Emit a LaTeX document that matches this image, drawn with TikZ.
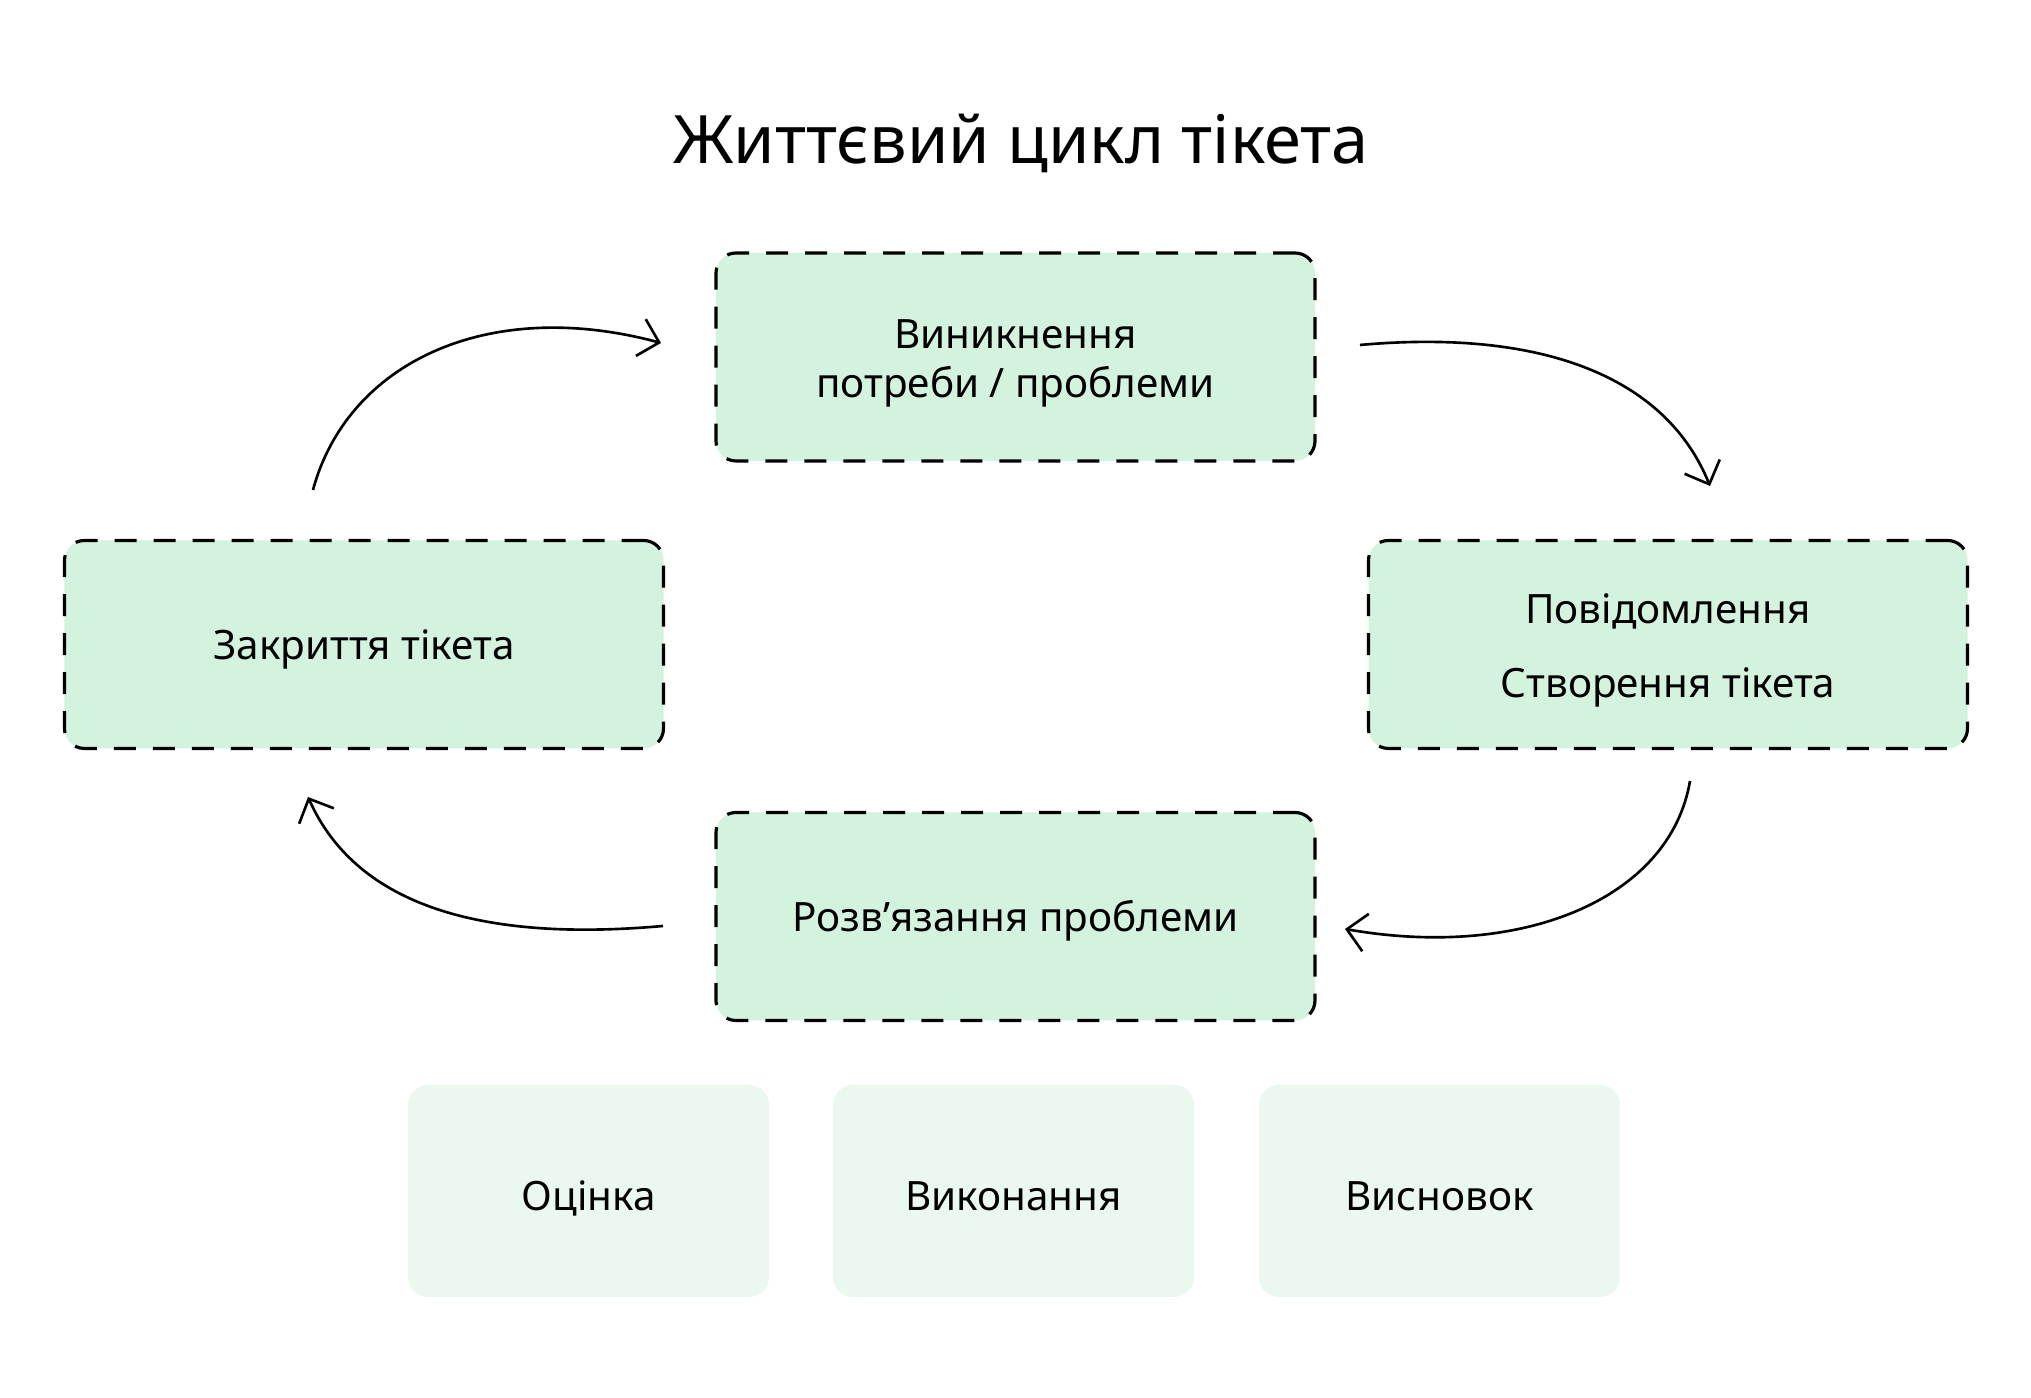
\documentclass[tikz,border=0pt]{standalone}
\usepackage{fontspec}
\setmainfont{Noto Sans}
\usetikzlibrary{arrows.meta}
\definecolor{stagefill}{HTML}{D3F3DF}
\definecolor{phasefill}{HTML}{EAF8EF}
\tikzset{
	stage/.style={draw=black, line width=0.9pt, dash pattern=on 2.2mm off 1.7mm, fill=stagefill, rounded corners=2mm, minimum width=5.99cm, minimum height=2.08cm, align=center, font=\fontsize{11.5}{14}\selectfont, execute at begin node={\rule{0pt}{3.9mm}}},
	phase/.style={fill=phasefill, rounded corners=2mm, minimum width=3.61cm, minimum height=2.12cm, font=\fontsize{11.5}{14}\selectfont, text height=3.9mm, text depth=0pt},
	flow/.style={line width=0.75pt, -{Straight Barb[length=1.9mm,width=3.8mm]}}
}

\begin{document}
\begin{tikzpicture}
				\useasboundingbox (0,0) rectangle (20.31,13.98);
				
				\node (title) at (10.21,12.55) {\fontsize{19}{23}\selectfont Життєвий цикл тікета};
				
				\node[stage] (need) at (10.155,10.41) {\rule{0pt}{4.2mm}Виникнення\\потреби / проблеми};
				\node[stage] (notify) at (16.68,7.535) {\rule{0pt}{4.2mm}Повідомлення\\[0.25cm]Створення тікета};
				\node[stage] (solve) at (10.155,4.815) {Розв’язання проблеми};
				\node[stage] (close) at (3.64,7.535) {Закриття тікета};
				
				\node[phase] (assess) at (5.885,2.07) {Оцінка};
				\node[phase] (execute) at (10.135,2.07) {Виконання};
				\node[phase] (conclude) at (14.395,2.07) {Висновок};
				
				\coordinate (closeout) at (3.13,9.08);
				\coordinate (needin) at (6.61,10.55);
				\coordinate (needout) at (13.60,10.53);
				\coordinate (notifyin) at (17.10,9.12);
				\coordinate (notifyout) at (16.90,6.17);
				\coordinate (solvein) at (13.45,4.69);
				\coordinate (solveout) at (6.63,4.72);
				\coordinate (closein) at (3.08,6.01);
				
				\draw[flow] (closeout) .. controls (3.47,10.34) and (4.86,11.02) .. (needin);
				\draw[flow] (needout) .. controls (15.39,10.69) and (16.65,10.23) .. (notifyin);
				\draw[flow] (notifyout) .. controls (16.70,4.99) and (15.22,4.38) .. (solvein);
				\draw[flow] (solveout) .. controls (4.84,4.56) and (3.57,4.91) .. (closein);
			\end{tikzpicture}
\end{document}
